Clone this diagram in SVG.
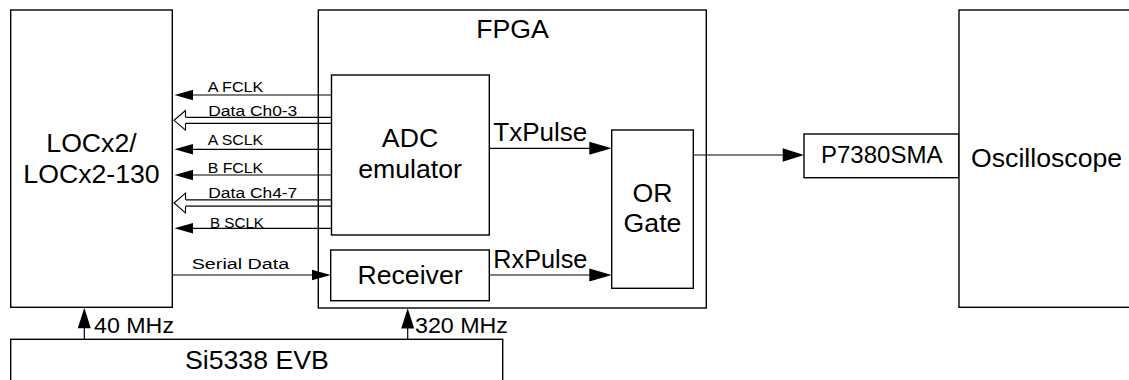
<svg xmlns="http://www.w3.org/2000/svg" width="1129" height="380" viewBox="0 0 1129 380">
<style>
.box{fill:#fff;stroke:#000;stroke-width:1.4}
.big{font-family:"Liberation Sans",Arial,sans-serif;font-size:26.67px;fill:#000}
.mid{font-family:"Liberation Sans",Arial,sans-serif;font-size:24px;fill:#000}
.pl{font-family:"Liberation Sans",Arial,sans-serif;font-size:25.5px;fill:#000}
.sm{font-family:"Liberation Sans",Arial,sans-serif;font-size:15.5px;fill:#000}
.fq{font-family:"Liberation Sans",Arial,sans-serif;font-size:22px;fill:#000}
.ln{stroke:#000;stroke-width:1.2;fill:none}
.ah{fill:#000;stroke:none}
.hol{fill:#fff;stroke:#000;stroke-width:1.1}
</style>
<rect width="1129" height="380" fill="#fff"/>
<g id="node-locx2">
<rect class="box" x="10.7" y="10" width="161.6" height="297.3"/>
<text class="big" x="91.5" y="151.7" text-anchor="middle">LOCx2/</text>
<text class="big" x="91.5" y="183.3" text-anchor="middle">LOCx2-130</text>
</g>
<g id="node-fpga">
<rect class="box" x="318.3" y="10" width="388" height="298"/>
<text class="big" x="512.5" y="37.5" text-anchor="middle">FPGA</text>
</g>
<g id="node-adc">
<rect class="box" x="331.5" y="75" width="157.8" height="160"/>
<text class="big" x="410" y="146.7" text-anchor="middle">ADC</text>
<text class="big" x="410" y="178.3" text-anchor="middle">emulator</text>
</g>
<g id="node-receiver">
<rect class="box" x="330.7" y="250" width="158.6" height="50.7"/>
<text class="big" x="410" y="284" text-anchor="middle">Receiver</text>
</g>
<g id="node-orgate">
<rect class="box" x="611.7" y="130" width="81.6" height="158.3"/>
<text class="big" x="652.5" y="201.7" text-anchor="middle">OR</text>
<text class="big" x="652.5" y="232.3" text-anchor="middle">Gate</text>
</g>
<g id="node-p7380sma">
<rect class="box" x="804" y="134" width="155" height="43.7"/>
<text class="mid" x="881.7" y="163.3" text-anchor="middle">P7380SMA</text>
</g>
<g id="node-oscilloscope">
<rect class="box" x="959" y="10" width="190" height="297.3"/>
<text class="big" x="971" y="166.7">Oscilloscope</text>
</g>
<g id="node-si5338">
<rect class="box" x="10.7" y="339.3" width="492" height="60"/>
<text class="big" x="185" y="369.3">Si5338 EVB</text>
</g>
<g id="connectors">
<line class="ln" x1="331.5" y1="95" x2="190" y2="95"/>
<polygon class="ah" points="174.5,95 193,89.8 193,100.2"/>
<text class="sm" x="207.7" y="92.3" textLength="55.7" lengthAdjust="spacingAndGlyphs">A FCLK</text>
<line class="ln" x1="331.5" y1="117.3" x2="185.5" y2="117.3"/>
<line class="ln" x1="331.5" y1="123.3" x2="185.5" y2="123.3"/>
<polyline class="hol" points="185.5,117.3 185.5,110.5 174,120.3 185.5,130.1 185.5,123.3"/>
<text class="sm" x="208.3" y="116" textLength="89" lengthAdjust="spacingAndGlyphs">Data Ch0-3</text>
<line class="ln" x1="331.5" y1="149.3" x2="190" y2="149.3"/>
<polygon class="ah" points="174.5,149.3 193,144.1 193,154.5"/>
<text class="sm" x="207.7" y="145.3" textLength="55.5" lengthAdjust="spacingAndGlyphs">A SCLK</text>
<line class="ln" x1="331.5" y1="175" x2="190" y2="175"/>
<polygon class="ah" points="174.5,175 193,169.8 193,180.2"/>
<text class="sm" x="207.7" y="172.6" textLength="55.5" lengthAdjust="spacingAndGlyphs">B FCLK</text>
<line class="ln" x1="331.5" y1="199.8" x2="185.5" y2="199.8"/>
<line class="ln" x1="331.5" y1="206.2" x2="185.5" y2="206.2"/>
<polyline class="hol" points="185.5,199.8 185.5,193.2 174,203 185.5,212.8 185.5,206.2"/>
<text class="sm" x="208.3" y="198.3" textLength="89" lengthAdjust="spacingAndGlyphs">Data Ch4-7</text>
<line class="ln" x1="331.5" y1="228.3" x2="190" y2="228.3"/>
<polygon class="ah" points="174.5,228.3 193,223.1 193,233.5"/>
<text class="sm" x="210" y="227.5" textLength="54" lengthAdjust="spacingAndGlyphs">B SCLK</text>
<line class="ln" x1="172.3" y1="275" x2="314" y2="275"/>
<polygon class="ah" points="330.7,275 312,269.8 312,280.2"/>
<text class="sm" x="191.7" y="269" textLength="97.6" lengthAdjust="spacingAndGlyphs">Serial Data</text>
<line class="ln" x1="489.3" y1="148.3" x2="592" y2="148.3"/>
<polygon class="ah" points="611.7,148.3 589.3,141.8 589.3,154.8"/>
<text class="pl" x="493.3" y="140.7" textLength="94" lengthAdjust="spacingAndGlyphs">TxPulse</text>
<line class="ln" x1="489.3" y1="275" x2="592" y2="275"/>
<polygon class="ah" points="611.7,275 589.3,268.5 589.3,281.5"/>
<text class="pl" x="493.3" y="267.5" textLength="94" lengthAdjust="spacingAndGlyphs">RxPulse</text>
<line class="ln" x1="693.3" y1="155" x2="785" y2="155"/>
<polygon class="ah" points="804,155 782.7,148.3 782.7,161.7"/>
<line class="ln" x1="84.3" y1="339.3" x2="84.3" y2="326"/>
<polygon class="ah" points="84.3,307.8 77.8,328.3 90.8,328.3"/>
<text class="fq" x="94" y="333.3" textLength="80" lengthAdjust="spacingAndGlyphs">40 MHz</text>
<line class="ln" x1="407.7" y1="339.3" x2="407.7" y2="326"/>
<polygon class="ah" points="407.7,308.3 401.2,328.5 414.2,328.5"/>
<text class="fq" x="415" y="333.3" textLength="93" lengthAdjust="spacingAndGlyphs">320 MHz</text>
</g>
</svg>
